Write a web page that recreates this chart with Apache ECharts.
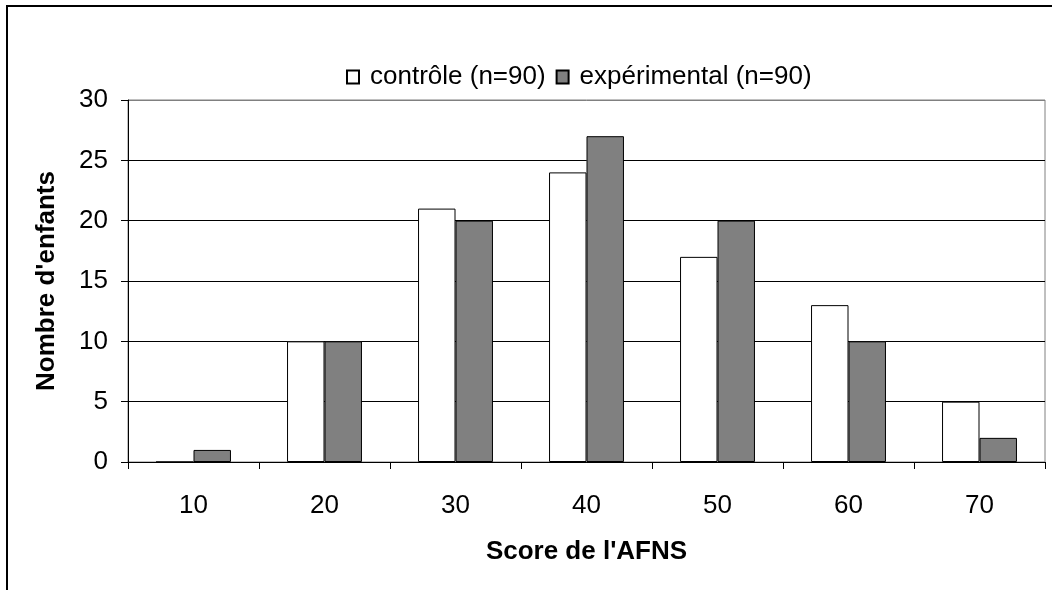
<!DOCTYPE html>
<html>
<head>
<meta charset="utf-8">
<script src="https://cdn.jsdelivr.net/npm/echarts@6/dist/echarts.min.js"></script>
<style>
  html, body { margin: 0; padding: 0; background: #fff; }
  #chart { width: 1052px; height: 590px; }
</style>
</head>
<body>
<div id="chart"></div>
<script>
// Score bins (x axis)
const scores = ['10', '20', '30', '40', '50', '60', '70'];
// Number of children per score bin
const controle = [0, 10, 21, 24, 17, 13, 5];
const experimental = [1, 10, 20, 27, 20, 10, 2];
// Series names
const seriesNames = ['contrôle (n=90)', 'expérimental (n=90)'];

const FONT = '"Liberation Sans", Arial, sans-serif';

const chart = echarts.init(document.getElementById('chart'), null, { renderer: 'canvas' });

chart.setOption({
  backgroundColor: '#fff',
  animation: false,
  textStyle: { fontFamily: FONT, color: '#000' },
  graphic: [{
    type: 'rect',
    shape: { x: 7, y: 6, width: 1100, height: 700 },
    style: { fill: 'none', stroke: '#000', lineWidth: 2 },
    silent: true,
    z: -10
  }],
  legend: {
    left: 341,
    top: 59,
    itemWidth: 12,
    itemHeight: 13,
    itemGap: 10,
    icon: 'rect',
    textStyle: { fontFamily: FONT, fontSize: 26, color: '#000', padding: [0, 0, 0, 6] },
    data: seriesNames
  },
  grid: {
    left: 128,
    right: 7,
    top: 100,
    bottom: 128,
    show: true,
    borderColor: '#808080',
    borderWidth: 1,
    backgroundColor: 'transparent'
  },
  xAxis: {
    type: 'category',
    data: scores,
    name: "Score de l'AFNS",
    nameLocation: 'middle',
    nameGap: 77,
    nameTextStyle: { fontFamily: FONT, fontSize: 26, fontWeight: 'bold', color: '#000' },
    axisLine: { lineStyle: { color: '#000', width: 1 } },
    axisTick: { show: true, length: 7, lineStyle: { color: '#000' } },
    axisLabel: { fontFamily: FONT, fontSize: 26, color: '#000', margin: 31 },
    splitLine: { show: false }
  },
  yAxis: {
    type: 'value',
    min: 0,
    max: 30,
    interval: 5,
    name: "Nombre d'enfants",
    nameLocation: 'middle',
    nameGap: 68,
    nameRotate: 90,
    nameTextStyle: { fontFamily: FONT, fontSize: 26, fontWeight: 'bold', color: '#000' },
    axisLine: { show: true, lineStyle: { color: '#000', width: 1 } },
    axisTick: { show: true, length: 7, lineStyle: { color: '#000' } },
    axisLabel: { fontFamily: FONT, fontSize: 26, color: '#000', margin: 20 },
    splitLine: {
      show: true,
      lineStyle: { color: ['#000', '#000', '#000', '#000', '#000', '#000', '#808080'], width: 1 }
    }
  },
  series: [
    {
      name: seriesNames[0],
      type: 'bar',
      data: controle,
      barWidth: '28.6%',
      barGap: '0%',
      itemStyle: { color: '#ffffff', borderColor: '#000', borderWidth: 1 }
    },
    {
      name: seriesNames[1],
      type: 'bar',
      data: experimental,
      barWidth: '28.6%',
      barGap: '0%',
      itemStyle: { color: '#808080', borderColor: '#000', borderWidth: 1 }
    }
  ]
});
</script>
</body>
</html>
